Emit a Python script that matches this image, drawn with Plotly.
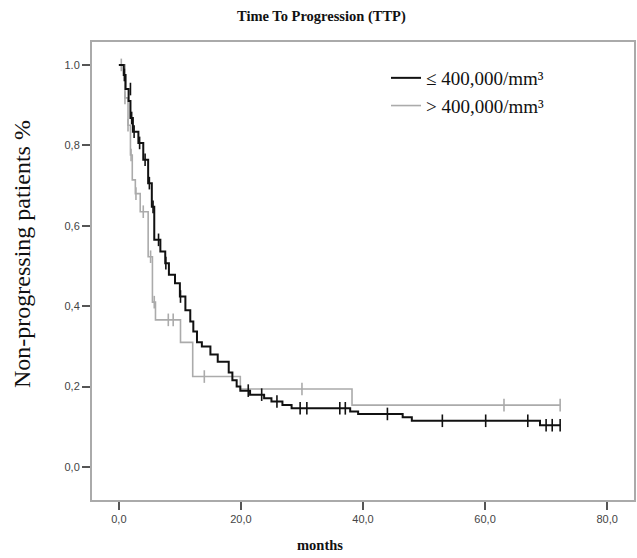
import plotly.graph_objects as go

# Group 1: <= 400,000/mm3 (black) - step times and survival after each step
low_t = [0, 0.8, 1.1, 1.6, 1.9, 2.3, 3.2, 4.0, 4.8, 5.4, 5.8, 6.8, 7.6, 8.2, 9.2, 10.0,
         10.9, 11.7, 12.2, 12.8, 13.6, 15.0, 16.2, 18.0, 18.6, 19.3, 19.9, 21.5,
         23.8, 25.0, 26.8, 28.3, 37.9, 39.2, 46.5, 48.0, 69.0, 72.3]
low_s = [1.0, 0.975, 0.94, 0.91, 0.868, 0.834, 0.806, 0.764, 0.706, 0.647, 0.565,
         0.536, 0.507, 0.478, 0.457, 0.424, 0.39, 0.362, 0.337, 0.31, 0.30, 0.28,
         0.262, 0.235, 0.216, 0.20, 0.19, 0.18, 0.171, 0.163, 0.154, 0.146, 0.138,
         0.132, 0.124, 0.115, 0.104, 0.104]
low_cens_t = [0.9, 1.9, 2.1, 2.5, 3.4, 4.3, 5.0, 5.6, 6.5, 7.7, 10.1, 21.2, 23.4,
              25.9, 29.7, 30.8, 36.2, 37.1, 44.0, 53.0, 60.1, 67.0, 70.0, 71.0, 72.3]
low_cens_s = [0.975, 0.94, 0.868, 0.834, 0.806, 0.764, 0.706, 0.647, 0.565, 0.507,
              0.424, 0.19, 0.18, 0.163, 0.146, 0.146, 0.146, 0.146, 0.132, 0.115,
              0.115, 0.115, 0.104, 0.104, 0.104]

# Group 2: > 400,000/mm3 (grey)
high_t = [0, 1.0, 1.5, 1.9, 2.2, 2.7, 3.5, 4.8, 5.5, 6.0, 10.1, 12.1, 19.9, 38.2, 72.3]
high_s = [1.0, 0.918, 0.85, 0.776, 0.714, 0.68, 0.635, 0.523, 0.41, 0.366, 0.31,
          0.225, 0.194, 0.154, 0.154]
high_cens_t = [0.4, 1.0, 1.5, 2.0, 2.8, 4.0, 5.2, 5.8, 8.1, 8.9, 14.0, 30.0, 63.1, 72.3]
high_cens_s = [1.0, 0.918, 0.85, 0.776, 0.68, 0.635, 0.523, 0.41, 0.366, 0.366,
               0.225, 0.194, 0.154, 0.154]

x_ticks = [0, 20, 40, 60, 80]
x_ticklabels = ["0,0", "20,0", "40,0", "60,0", "80,0"]
y_ticks = [0, 0.2, 0.4, 0.6, 0.8, 1.0]
y_ticklabels = ["0,0", "0,2", "0,4", "0,6", "0,8", "1.0"]

BLACK = "#111111"
GREY = "#ababab"
W, H = 637, 558
ML, MR, MT, MB = 92, 3, 42, 58

fig = go.Figure()
fig.add_trace(go.Scatter(x=high_t, y=high_s, mode="lines", line=dict(color=GREY, width=1.6, shape="hv"),
                         name="> 400,000/mm³", legendrank=2))
fig.add_trace(go.Scatter(x=high_cens_t, y=high_cens_s, mode="markers",
                         marker=dict(symbol="line-ns-open", size=9, color=GREY, line=dict(color=GREY, width=1.6)),
                         showlegend=False))
fig.add_trace(go.Scatter(x=low_t, y=low_s, mode="lines", line=dict(color=BLACK, width=2, shape="hv"),
                         name="≤ 400,000/mm³", legendrank=1))
fig.add_trace(go.Scatter(x=low_cens_t, y=low_cens_s, mode="markers",
                         marker=dict(symbol="line-ns-open", size=9, color=BLACK, line=dict(color=BLACK, width=1.6)),
                         showlegend=False))

pw = W - ML - MR
ph = H - MT - MB


def px(x):
    return (x - ML) / pw


def py(y_from_top):
    return (H - y_from_top - MB) / ph


tickfont = dict(family="Liberation Sans, Arial", size=11, color="#444444")
serif = "Liberation Serif, Times New Roman"
fig.update_layout(
    template="none",
    width=W, height=H,
    margin=dict(l=ML, r=MR, t=MT, b=MB),
    paper_bgcolor="white", plot_bgcolor="white",
    showlegend=True,
    legend=dict(x=px(386), y=py(59), xanchor="left", yanchor="top", bgcolor="rgba(0,0,0,0)",
                font=dict(family=serif, size=19, color="#111111"),
                itemwidth=30, tracegroupgap=0),
    xaxis=dict(range=[-4.4, 84.4], tickmode="array", tickvals=x_ticks, ticktext=x_ticklabels,
               ticks="outside", ticklen=8, tickwidth=2, tickcolor="#555555", automargin=False,
               showline=True, linecolor="#aaaaaa", linewidth=2, mirror=True,
               showgrid=False, zeroline=False, tickfont=tickfont),
    yaxis=dict(range=[-0.082, 1.057], tickmode="array", tickvals=y_ticks, ticktext=y_ticklabels,
               ticks="outside", ticklen=8, tickwidth=2, tickcolor="#555555", automargin=False,
               showline=True, linecolor="#aaaaaa", linewidth=2, mirror=True,
               showgrid=False, zeroline=False, tickfont=tickfont),
    annotations=[
        dict(text="<b>Time To Progression (TTP)</b>", x=px(321), y=py(17), xref="paper", yref="paper",
             xanchor="center", yanchor="middle",
             showarrow=False, font=dict(family=serif, size=14.5, color="#111111")),
        dict(text="<b>months</b>", x=px(320), y=py(545), xref="paper", yref="paper",
             xanchor="center", yanchor="middle",
             showarrow=False, font=dict(family=serif, size=14.5, color="#111111")),
        dict(text="Non-progressing patients %", x=px(22), y=py(254), xref="paper", yref="paper",
             xanchor="center", yanchor="middle", textangle=-90,
             showarrow=False, font=dict(family=serif, size=24, color="#111111")),
    ],
)

fig.write_html("out.html", config={"displayModeBar": False},
               post_script="document.body.style.margin='0px';")
